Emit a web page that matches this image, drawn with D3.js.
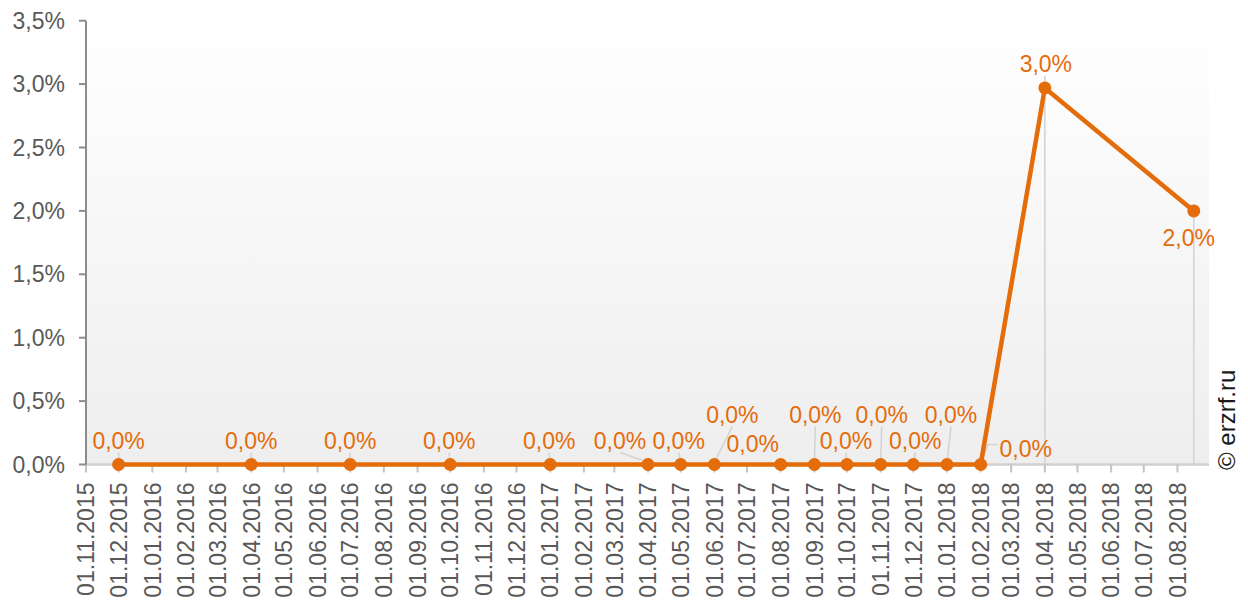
<!DOCTYPE html>
<html>
<head>
<meta charset="utf-8">
<script src="https://cdn.jsdelivr.net/npm/d3@7"></script>
<style>
  html, body { margin: 0; padding: 0; background: #fff; }
  svg { display: block; font-family: "Liberation Sans", Arial, sans-serif; }
</style>
</head>
<body>
<svg id="chart" width="1248" height="602"></svg>
<script>
// Data
const dates = [
  "2015-12-01", "2016-04-01", "2016-07-01", "2016-10-01", "2017-01-01",
  "2017-04-01", "2017-05-01", "2017-06-01", "2017-08-01", "2017-09-01",
  "2017-10-01", "2017-11-01", "2017-12-01", "2018-01-01", "2018-02-01",
  "2018-04-01", "2018-08-16"
];
const values = [0, 0, 0, 0, 0, 0, 0, 0, 0, 0, 0, 0, 0, 0, 0, 2.97, 2.0];

const yTicks = [0, 0.5, 1, 1.5, 2, 2.5, 3, 3.5];
const xTickLabels = [
  "01.11.2015", "01.12.2015", "01.01.2016", "01.02.2016", "01.03.2016", "01.04.2016",
  "01.05.2016", "01.06.2016", "01.07.2016", "01.08.2016", "01.09.2016", "01.10.2016",
  "01.11.2016", "01.12.2016", "01.01.2017", "01.02.2017", "01.03.2017", "01.04.2017",
  "01.05.2017", "01.06.2017", "01.07.2017", "01.08.2017", "01.09.2017", "01.10.2017",
  "01.11.2017", "01.12.2017", "01.01.2018", "01.02.2018", "01.03.2018", "01.04.2018",
  "01.05.2018", "01.06.2018", "01.07.2018", "01.08.2018"
];

// label placement relative to its point: dx, dy (baseline), leader kind
// 0 = none, 1 = straight line to point, 2 = elbow from the side, 3 = drop to axis
const labelPlace = [
  [0, -16, 1], [0, -16, 1], [0, -16, 1], [-1, -16, 1], [-1, -16, 1],
  [-28, -16, 1], [-2, -16, 1], [18, -42, 1], [-28, -13, 0], [1, -42, 1],
  [-1, -16, 1], [1, -42, 1], [2, -16, 1], [4, -42, 1], [45, -8, 2],
  [1, -16, 3], [-5, 35, 3]
];

const ORANGE = '#E46C0A';
const TEXT = '#595959';

const parse = d3.timeParse('%Y-%m-%d');
const parseTick = d3.timeParse('%d.%m.%Y');
const loc = d3.formatLocale({ decimal: ',', thousands: ' ', grouping: [3], currency: ['', ''] });
const fmt = v => loc.format('.1f')(v) + '%';

const pts = dates.map((d, i) => ({ date: parse(d), v: values[i], lp: labelPlace[i] }));

const plotL = 86, plotR = 1209, plotT = 20.7, plotB = 464.5;
const x = d3.scaleTime()
  .domain([parse('2015-11-01'), parse('2018-08-30')])
  .range([plotL, plotR]);
const y = d3.scaleLinear().domain([0, 3.5]).range([plotB, plotT]);

const svg = d3.select('#chart');

// plot background: white at top fading to light gray
const defs = svg.append('defs');
const grad = defs.append('linearGradient')
  .attr('id', 'bg').attr('x1', 0).attr('y1', 0).attr('x2', 0).attr('y2', 1);
grad.append('stop').attr('offset', '0%').attr('stop-color', '#ffffff');
grad.append('stop').attr('offset', '100%').attr('stop-color', '#eeeeee');

svg.append('rect')
  .attr('x', plotL).attr('y', plotT)
  .attr('width', plotR - plotL).attr('height', plotB - plotT)
  .attr('fill', 'url(#bg)');

// leader / drop lines (under everything else)
const gLead = svg.append('g')
  .attr('stroke', '#d4d4d4').attr('stroke-width', 1.6).attr('fill', 'none');
pts.forEach(p => {
  const px = x(p.date), py = y(p.v);
  const [dx, dy, kind] = p.lp;
  const lx = px + dx, ly = py + dy;
  if (kind === 1) {
    gLead.append('line')
      .attr('x1', lx).attr('y1', ly + 4)
      .attr('x2', px).attr('y2', py - 2);
  } else if (kind === 2) {
    gLead.append('polyline')
      .attr('points', `${lx - 28},${ly - 12} ${px + 7},${ly - 12} ${px},${py}`);
  } else if (kind === 3) {
    gLead.append('line')
      .attr('x1', px).attr('y1', Math.min(ly + 4, py))
      .attr('x2', px).attr('y2', plotB);
  }
});

// x axis
svg.append('line')
  .attr('x1', plotL).attr('x2', plotR)
  .attr('y1', plotB).attr('y2', plotB)
  .attr('stroke', '#d0d0d0').attr('stroke-width', 2.5);

const xt = svg.append('g').selectAll('g.xt')
  .data(xTickLabels)
  .join('g')
  .attr('class', 'xt')
  .attr('transform', d => `translate(${x(parseTick(d))},${plotB})`);
xt.append('line')
  .attr('y1', 0).attr('y2', 8)
  .attr('stroke', '#c4c4c4').attr('stroke-width', 2);
xt.append('text')
  .attr('transform', 'rotate(-90)')
  .attr('x', -18).attr('dy', '0.36em')
  .attr('text-anchor', 'end')
  .attr('fill', TEXT)
  .attr('font-size', 23)
  .text(d => d);

// y axis
svg.append('line')
  .attr('x1', plotL).attr('x2', plotL)
  .attr('y1', plotT).attr('y2', plotB)
  .attr('stroke', '#8c8c8c').attr('stroke-width', 2);

const yt = svg.append('g').selectAll('g.yt')
  .data(yTicks)
  .join('g')
  .attr('class', 'yt')
  .attr('transform', d => `translate(${plotL},${y(d)})`);
yt.append('line')
  .attr('x1', -7).attr('x2', 0)
  .attr('stroke', '#8c8c8c').attr('stroke-width', 2);
yt.append('text')
  .attr('x', -21).attr('dy', '0.35em')
  .attr('text-anchor', 'end')
  .attr('fill', TEXT)
  .attr('font-size', 23)
  .text(d => fmt(d));

// series line + markers
const line = d3.line().x(d => x(d.date)).y(d => y(d.v));
svg.append('path')
  .datum(pts)
  .attr('d', line)
  .attr('fill', 'none')
  .attr('stroke', ORANGE)
  .attr('stroke-width', 4.5)
  .attr('stroke-linejoin', 'round');

svg.append('g').selectAll('circle')
  .data(pts)
  .join('circle')
  .attr('cx', d => x(d.date))
  .attr('cy', d => y(d.v))
  .attr('r', 6.5)
  .attr('fill', ORANGE);

// data labels
svg.append('g').selectAll('text')
  .data(pts)
  .join('text')
  .attr('x', d => x(d.date) + d.lp[0])
  .attr('y', d => y(d.v) + d.lp[1])
  .attr('text-anchor', 'middle')
  .attr('fill', ORANGE)
  .attr('font-size', 23)
  .text(d => fmt(d.v));

// watermark
svg.append('text')
  .attr('transform', 'translate(1235,470) rotate(-90)')
  .attr('fill', '#1a1a1a')
  .attr('font-size', 24)
  .text('© erzrf.ru');
</script>
</body>
</html>
